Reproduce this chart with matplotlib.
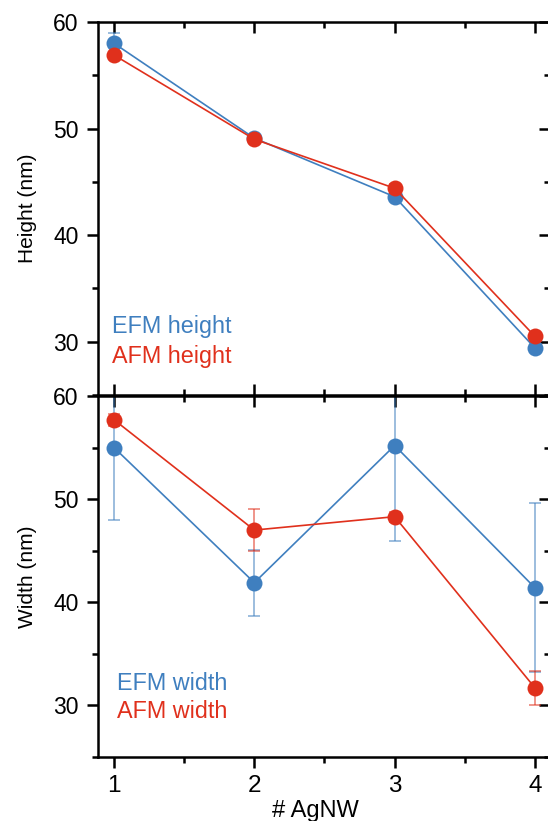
import numpy as np
import matplotlib
matplotlib.use("Agg")
import matplotlib.pyplot as plt
from matplotlib.ticker import MultipleLocator

plt.rcParams['font.family'] = ['Liberation Sans', 'DejaVu Sans']

# data
nw = [1, 2, 3, 4]
efm_height = [58.0, 49.1, 43.6, 29.4]
efm_height_err = [1.0, 0.2, 0.3, 0.3]
afm_height = [56.9, 49.0, 44.4, 30.5]
afm_height_err = [0.3, 0.3, 0.4, 0.3]

efm_width = [55.0, 41.9, 55.2, 41.4]
efm_width_err = [7.0, 3.2, 9.3, 8.2]
afm_width = [57.7, 47.0, 48.3, 31.7]
afm_width_err = [0.6, 2.0, 0.5, 1.65]

blue = '#3F7FBF'
red = '#E0301C'

fig = plt.figure(figsize=(5.48, 8.21), dpi=100)
W, H = 548, 821
left, right = 98, 550
ax1 = fig.add_axes([left / W, (H - 395) / H, (right - left) / W, 373 / H])
ax2 = fig.add_axes([left / W, (H - 757) / H, (right - left) / W, 361 / H])


def series(ax, y, err, color, z):
    ax.errorbar(nw, y, yerr=err, fmt='none', ecolor=color, alpha=0.65,
                elinewidth=1.1, capsize=4.5, capthick=1.1, zorder=z)
    ax.plot(nw, y, '-o', color=color, lw=1.2, markersize=11.5,
            markeredgewidth=0, zorder=z + 1)


series(ax1, efm_height, efm_height_err, blue, 2)
series(ax1, afm_height, afm_height_err, red, 4)
series(ax2, efm_width, efm_width_err, blue, 2)
series(ax2, afm_width, afm_width_err, red, 4)

for ax in (ax1, ax2):
    ax.set_xlim(0.886, 4.107)
    ax.set_ylim(25, 60)
    ax.xaxis.set_major_locator(MultipleLocator(1))
    ax.xaxis.set_minor_locator(MultipleLocator(0.5))
    ax.yaxis.set_major_locator(MultipleLocator(10))
    ax.yaxis.set_minor_locator(MultipleLocator(5))
    for s in ax.spines.values():
        s.set_linewidth(1.8)
    ax.tick_params(axis='y', which='both', left=True, right=True,
                   labelleft=True, width=1.8, labelsize=16.5, pad=6)
    ax.tick_params(axis='y', which='major', length=8)
    ax.tick_params(axis='y', which='minor', length=4)
    ax.tick_params(axis='x', which='both', top=True, bottom=True,
                   direction='in', width=1.8)
    ax.tick_params(axis='x', which='major', length=8)
    ax.tick_params(axis='x', which='minor', length=4)
    # right side ticks point inward
    for t in ax.yaxis.get_major_ticks() + ax.yaxis.get_minor_ticks():
        t.tick2line.set_marker(matplotlib.lines.TICKLEFT)
    ax.yaxis.set_label_coords(-0.135, 0.5)

ax1.tick_params(axis='x', labelbottom=False)
ax2.tick_params(axis='x', which='both', bottom=True, top=True,
                labelsize=17.5, pad=13)
for t in ax2.xaxis.get_major_ticks() + ax2.xaxis.get_minor_ticks():
    t.tick1line.set_marker(matplotlib.lines.TICKDOWN)

ax1.set_ylabel('Height (nm)', fontsize=15)
ax2.set_ylabel('Width (nm)', fontsize=15)
ax2.set_xlabel('# AgNW', fontsize=17)
ax2.xaxis.label.set_va('baseline')
ax2.xaxis.set_label_coords(0.48, -0.166)

ax1.text(0.031, 0.166, 'EFM height', color=blue, fontsize=16.8,
         transform=ax1.transAxes, va='baseline')
ax1.text(0.031, 0.086, 'AFM height', color=red, fontsize=16.8,
         transform=ax1.transAxes, va='baseline')
ax2.text(0.042, 0.186, 'EFM width', color=blue, fontsize=16.8,
         transform=ax2.transAxes, va='baseline')
ax2.text(0.042, 0.108, 'AFM width', color=red, fontsize=16.8,
         transform=ax2.transAxes, va='baseline')

fig.savefig('out.png', dpi=100)
